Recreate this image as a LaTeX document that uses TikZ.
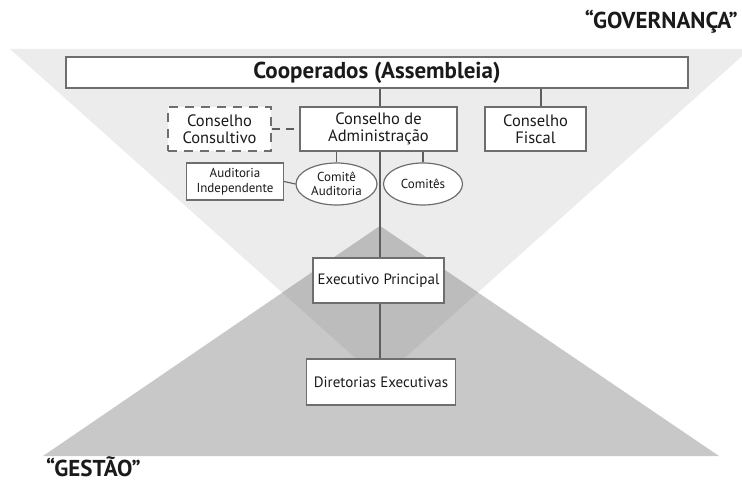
\documentclass[tikz,border=0pt]{standalone}
\usepackage{fontspec}
\setmainfont{PT Sans}
\usetikzlibrary{shapes.geometric}
\definecolor{lightg}{HTML}{ECECEC}
\definecolor{darkg}{HTML}{C8C8C8}
\definecolor{overg}{HTML}{BCBCBC}
\definecolor{bordc}{HTML}{6E6E6E}
\definecolor{linec}{HTML}{5E5E5E}
\definecolor{txtc}{HTML}{1A1A1A}
\begin{document}
\begin{tikzpicture}[x=1pt,y=-1pt,
  box/.style={draw=bordc, line width=1.5pt, fill=white, rectangle, inner sep=0pt, align=center, text=txtc},
  dbox/.style={box, draw=bordc, dash pattern=on 9pt off 7pt},
  oval/.style={draw=bordc, line width=1.2pt, fill=white, ellipse, inner sep=0pt, align=center, text=txtc},
  conn/.style={draw=linec, line width=1.1pt},
  big/.style={font=\fontsize{16.5}{16.5}\selectfont},
  small/.style={font=\fontsize{13}{14.5}\selectfont},
  mid/.style={font=\fontsize{15}{15}\selectfont},
  title/.style={font=\bfseries\fontsize{23}{23}\selectfont, text=txtc, inner sep=0pt}
]
\useasboundingbox (0,0) rectangle (742,481);
% triangles
\coordinate (LT1) at (10,49);
\coordinate (LT2) at (750,49);
\coordinate (LT3) at (380,380);
\coordinate (DT1) at (380,226);
\coordinate (DT2) at (43,456);
\coordinate (DT3) at (719,456);
\fill[lightg] (LT1) -- (LT2) -- (LT3) -- cycle;
\fill[darkg] (DT1) -- (DT2) -- (DT3) -- cycle;
\fill[overg] (DT1) -- (intersection of LT1--LT3 and DT1--DT2) -- (LT3) -- (intersection of LT2--LT3 and DT1--DT3) -- cycle;

% titles
\node[title, anchor=base east] (gov) at (738,29) {“GOVERNANÇA”};
\node[title, anchor=base west] (ges) at (46,476) {“GESTÃO”};

% nodes
\node[box, minimum width=622pt, minimum height=31pt, font=\bfseries\fontsize{23}{23}\selectfont] (coop) at (377,72.5) {Cooperados (Assembleia)};
\node[dbox, big, minimum width=103pt, minimum height=44pt] (consult) at (219.5,129) {Conselho\\Consultivo};
\node[box, big, minimum width=157pt, minimum height=44pt] (admin) at (378.5,129) {Conselho de\\Administração};
\node[box, big, minimum width=101pt, minimum height=44pt] (fiscal) at (535.5,129) {Conselho\\Fiscal};
\node[box, small, line width=1.3pt, minimum width=97pt, minimum height=37pt] (audind) at (235,181.5) {Auditoria\\Independente};
\node[oval, small, minimum width=81pt, minimum height=42pt] (comaud) at (336.5,184) {Comitê\\Auditoria};
\node[oval, small, minimum width=79pt, minimum height=42pt] (comites) at (423,184) {Comitês};
\node[box, mid, line width=1.3pt, minimum width=131pt, minimum height=45pt] (exec) at (378.5,280.5) {Executivo Principal};
\node[box, mid, line width=1.3pt, minimum width=149pt, minimum height=46pt] (dir) at (381,382) {Diretorias Executivas};

% connectors
\coordinate (vx) at (380,0);
\coordinate (fx) at (541,0);
\draw[conn] (coop.south -| vx) -- (admin.north -| vx);
\draw[conn] (coop.south -| fx) -- (fiscal.north -| fx);
\draw[conn, dash pattern=on 8pt off 6pt] (consult.east) -- (admin.west);
\draw[conn] (admin.south -| vx) -- (exec.north -| vx);
\draw[conn] (exec.south -| vx) -- (dir.north -| vx);
\draw[conn] (admin.south -| comaud.north) -- (comaud.north);
\draw[conn] (admin.south -| comites.north) -- (comites.north);
\draw[conn] (audind.east) -- (comaud.west);
\end{tikzpicture}
\end{document}
